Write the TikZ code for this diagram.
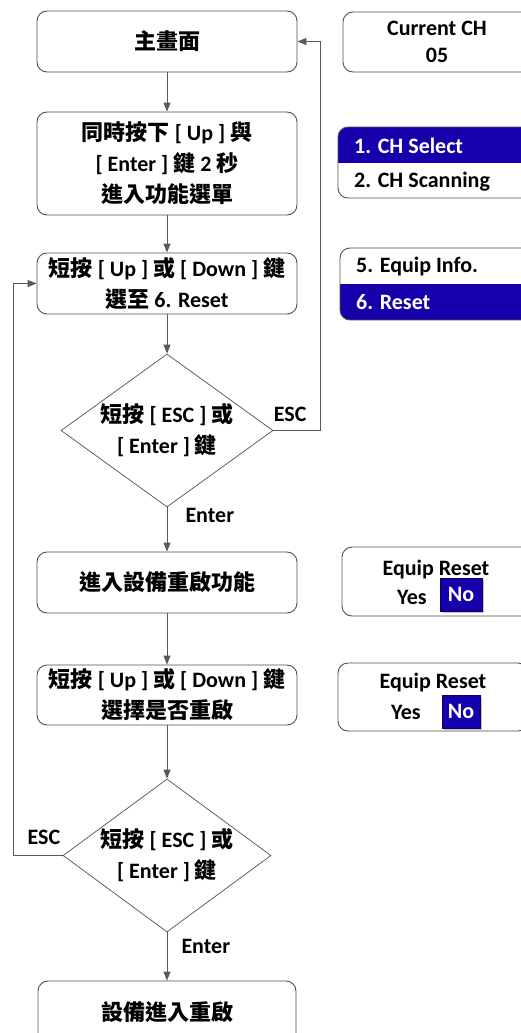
\documentclass[tikz,border=0pt]{standalone}
\usepackage{fontspec}
\setmainfont{Carlito}
\newfontfamily\zhfont{Noto Sans CJK TC}
\newcommand{\zh}[1]{{\zhfont #1}}
\usepackage{tikz}
\usetikzlibrary{arrows.meta,shapes.geometric,shadows}
\definecolor{linegray}{HTML}{595959}
\definecolor{boxgray}{HTML}{505050}
\definecolor{lcdblue}{RGB}{22,0,172}

\begin{document}
\begin{tikzpicture}[x=1pt,y=-1pt,
  font=\fontsize{22}{31}\selectfont\bfseries,
  stepbox/.style={draw=boxgray, line width=0.9pt, rounded corners=10pt, minimum width=260pt, align=center, inner sep=0pt},
  decision/.style={draw=boxgray, line width=0.7pt, diamond, inner sep=0pt},
  flow/.style={draw=linegray, line width=1pt, -{Triangle[length=9pt,width=7pt]}},
  lcd/.style={draw=boxgray, line width=0.9pt, rounded corners=10pt, inner sep=0pt},
  lcdtext/.style={font=\fontsize{22}{27}\selectfont\bfseries, align=center, inner sep=0pt},
  lcdsel/.style={fill=lcdblue, text=white, draw=lcdblue!60!black, line width=0.5pt, inner sep=0pt,
    drop shadow={shadow xshift=1.5pt, shadow yshift=-1.5pt, opacity=0.45}},
  edgelabel/.style={inner sep=0pt}]
  \useasboundingbox (0,0) rectangle (521,1033);
  \clip (0,0) rectangle (521,1033);

  \node[stepbox, minimum height=61pt] (home) at (167,41.5) {\zh{主畫面}};
  \node[stepbox, minimum height=103pt] (menu) at (167,163.5)
    {\zh{同時按下} [ Up ] \zh{與}\\{}[ Enter ] \zh{鍵} 2 \zh{秒}\\ \zh{進入功能選單}};
  \node[stepbox, minimum height=61pt] (select) at (167,283.5)
    {\zh{短按} [ Up ] \zh{或} [ Down ] \zh{鍵}\\ \zh{選至} 6. Reset};
  \node[decision, minimum width=212pt, minimum height=153pt] (askA) at (167,430.5) {};
  \node[align=center, inner sep=0pt] (askAtext) at (askA) {\zh{短按} [ ESC ] \zh{或}\\{}[ Enter ] \zh{鍵}};
  \node[stepbox, minimum height=61pt] (reset) at (167,582.5) {\zh{進入設備重啟功能}};
  \node[stepbox, minimum height=60pt] (choose) at (167,695)
    {\zh{短按} [ Up ] \zh{或} [ Down ] \zh{鍵}\\ \zh{選擇是否重啟}};
  \node[decision, minimum width=208pt, minimum height=153pt] (askB) at (167,855.5) {};
  \node[align=center, inner sep=0pt] (askBtext) at (askB) {\zh{短按} [ ESC ] \zh{或}\\{}[ Enter ] \zh{鍵}};
  \node[stepbox, minimum width=258pt, minimum height=62pt] (reboot) at (167,1012) {\zh{設備進入重啟}};

  \coordinate (backR) at (320,41.5);
  \coordinate (backL) at (13,283.5);

  \draw[flow] (home) -- (menu);
  \draw[flow] (menu) -- (select);
  \draw[flow] (select) -- (askA);
  \draw[flow] (askA) -- node[edgelabel, anchor=west, pos=0.18, xshift=18pt] {Enter} (reset);
  \draw[flow] (askA.east) node[edgelabel, anchor=south west, yshift=8pt] {ESC} -| (backR) -- (home.east);
  \draw[flow] (reset) -- (choose);
  \draw[flow] (choose) -- (askB);
  \draw[flow] (askB) -- node[edgelabel, anchor=west, pos=0.3, xshift=14pt] {Enter} (reboot);
  \draw[flow] (askB.west) node[edgelabel, anchor=south east, xshift=-2pt, yshift=10pt] {ESC} -| (backL) -- (select.west);

  \node[lcd, minimum width=188pt, minimum height=60pt] (chscreen) at (437,42) {};
  \node[lcdtext] (chtext) at (chscreen) {Current CH\\05};

  \begin{scope}
    \clip[rounded corners=10pt] (338,127) rectangle (538,198);
    \fill[lcdblue] (338,127) rectangle (538,163);
  \end{scope}
  \draw[boxgray, line width=0.9pt, rounded corners=10pt] (338,127) rectangle (538,198);
  \node[lcdtext, anchor=west, text=white] (itemA) at (354,146) {1. CH Select};
  \node[lcdtext, anchor=west] (itemB) at (354,182) {2. CH Scanning};

  \begin{scope}
    \clip[rounded corners=10pt] (340,248) rectangle (540,320);
    \fill[lcdblue] (340,284) rectangle (540,320);
  \end{scope}
  \draw[boxgray, line width=0.9pt, rounded corners=10pt] (340,248) rectangle (540,320);
  \node[lcdtext, anchor=west] (itemE) at (356,267) {5. Equip Info.};
  \node[lcdtext, anchor=west, text=white] (itemF) at (356,302) {6. Reset};

  \node[lcd, minimum width=190pt, minimum height=69pt] (askscreenA) at (437,581.5) {};
  \node[lcdtext] (titleA) at (436,570) {Equip Reset};
  \node[lcdtext] (yesA) at (412,597) {Yes};
  \node[lcdsel, minimum width=42pt, minimum height=33pt] (noA) at (461,594.5) {No};

  \node[lcd, minimum width=190pt, minimum height=68pt] (askscreenB) at (433,697) {};
  \node[lcdtext] (titleB) at (433,683) {Equip Reset};
  \node[lcdtext] (yesB) at (406,712) {Yes};
  \node[lcdsel, minimum width=38pt, minimum height=33pt] (noB) at (461,711.5) {No};
\end{tikzpicture}
\end{document}
